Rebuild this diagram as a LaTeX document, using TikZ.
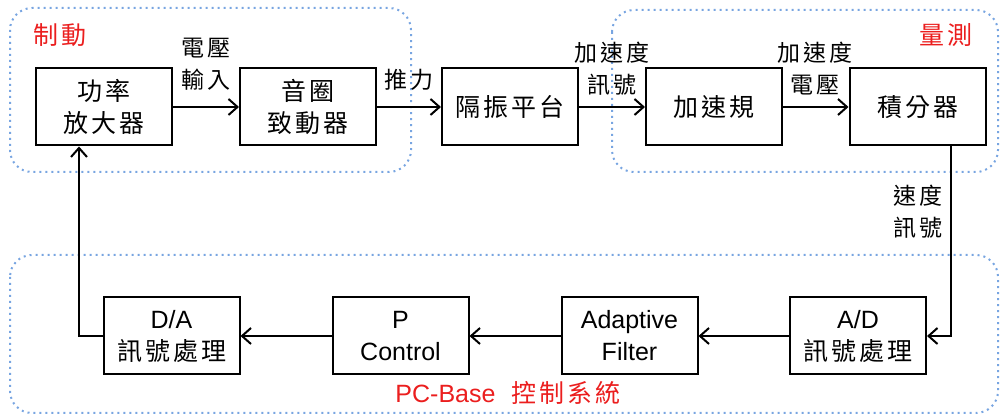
\documentclass[tikz,border=0pt]{standalone}
\usepackage{fontspec}
\setmainfont{Liberation Sans}
\newfontfamily\cjk[LetterSpace=12]{Noto Sans CJK TC}
\usetikzlibrary{arrows.meta}
\definecolor{zoneblue}{RGB}{120,165,225}
\definecolor{zonered}{RGB}{235,30,30}
\tikzset{
  blk/.style={draw, line width=1pt, minimum width=68pt, minimum height=38.5pt, inner sep=0pt, align=center, font=\fontsize{12.5}{16}\selectfont},
  conn/.style={line width=1pt, -{Straight Barb[length=4.5pt,width=8pt,line width=1pt]}},
  zone/.style={draw=zoneblue, line width=1pt, dotted, rounded corners=11pt},
  lbl/.style={align=center, font=\fontsize{11.5}{16}\selectfont\cjk, inner sep=0pt},
  tag/.style={text=zonered, font=\fontsize{12.5}{14}\selectfont, inner sep=0pt},
}
\begin{document}
\begin{tikzpicture}[x=0.5pt,y=-0.5pt]
\useasboundingbox (0,0) rectangle (1000,415);

% dotted zones
\draw[zone] (10,8) rectangle (411,172);
\draw[zone] (612,10) rectangle (998,172);
\draw[zone] (10,255) rectangle (998,413);
\node[tag] (tzd) at (60,35) {\cjk 制動};
\node[tag] (tzm) at (946,35) {\cjk 量測};
\node[tag] (tzp) at (508,393) {PC-Base\hspace{8pt}{\cjk 控制系統}};

% forward path
\node[blk] (pa) at (104,107) {\cjk 功率\\\cjk 放大器};
\node[blk] (vc) at (308,107) {\cjk 音圈\\\cjk 致動器};
\node[blk] (iso) at (510,107) {\cjk 隔振平台};
\node[blk] (acc) at (714,107) {\cjk 加速規};
\node[blk] (itg) at (917.5,107) {\cjk 積分器};

% PC-based controller
\node[blk] (da) at (171.5,336) {D/A\\\cjk 訊號處理};
\node[blk] (pc) at (400.5,336) {P\\Control};
\node[blk] (af) at (629.5,336) {Adaptive\\Filter};
\node[blk] (ad) at (858,336) {A/D\\\cjk 訊號處理};

% connectors
\draw[conn] (pa.east) -- (vc.west);
\draw[conn] (vc.east) -- (iso.west);
\draw[conn] (iso.east) -- (acc.west);
\draw[conn] (acc.east) -- (itg.west);
\draw[conn] ([xshift=16.75pt]itg.south) |- (ad.east);
\draw[conn] (ad.west) -- (af.east);
\draw[conn] (af.west) -- (pc.east);
\draw[conn] (pc.west) -- (da.east);
\draw[conn] (da.west) -| ([xshift=-12.5pt]pa.south);

% signal labels
\node[lbl] (l1) at (206,64) {電壓\\輸入};
\node[lbl] (l2) at (409,80) {推力};
\node[lbl] (l3) at (612,69) {加速度\\訊號};
\node[lbl] (l4) at (815,69) {加速度\\電壓};
\node[lbl] (l5) at (918,212) {速度\\訊號};
\end{tikzpicture}
\end{document}
